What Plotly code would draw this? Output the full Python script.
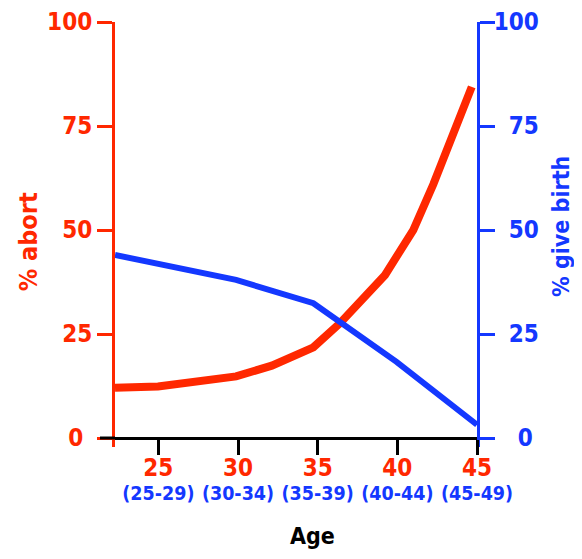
import plotly.graph_objects as go

# ---- data ----
age_ticks = [25, 30, 35, 40, 45]
age_labels = ["25", "30", "35", "40", "45"]
range_labels = ["(25-29)", "(30-34)", "(35-39)", "(40-44)", "(45-49)"]

abort_age = [22.28, 24.98, 29.88, 32.12, 34.73, 36.40, 39.23, 41.0, 42.26, 44.67]
abort_pct = [12.1, 12.4, 14.8, 17.4, 21.8, 27.6, 39.2, 50.0, 61.0, 84.4]

birth_age = [22.28, 29.88, 34.73, 39.95, 45.0]
birth_pct = [44.0, 38.0, 32.4, 18.3, 3.2]

y_ticks = [0, 25, 50, 75, 100]
left_labels = ["0\u2005\u2006", "25", "50", "75", "100"]
right_labels = ["\u2007\u2005\u20060", "\u200725", "\u200750", "\u200775", "100"]

RED = "#ff2800"
BLUE = "#1438ff"
FONT = "DejaVu Sans Condensed, DejaVu Sans, sans-serif"

x_range = [22.28, 45]
y_range = [-2.16, 100]
x_pos = (0 - y_range[0]) / (y_range[1] - y_range[0])

W, H = 566, 543
ML, MR, MT, MB = 107, 97, 14, 104
PH = H - MT - MB

fig = go.Figure()
fig.add_trace(go.Scatter(x=abort_age, y=abort_pct, mode="lines",
                         line=dict(color=RED, width=8), xaxis="x", yaxis="y",
                         showlegend=False, hoverinfo="skip"))
fig.add_trace(go.Scatter(x=birth_age, y=birth_pct, mode="lines",
                         line=dict(color=BLUE, width=6), xaxis="x2", yaxis="y2",
                         showlegend=False, hoverinfo="skip"))

fig.update_layout(
    width=W, height=H,
    margin=dict(l=ML, r=MR, t=MT, b=MB, autoexpand=False),
    paper_bgcolor="white", plot_bgcolor="white",
    font=dict(family=FONT),
    xaxis=dict(range=x_range, anchor="free", position=x_pos, automargin=False,
               showline=True, linecolor="black", linewidth=3,
               ticks="outside", ticklen=15, tickwidth=3, tickcolor="black",
               tickvals=age_ticks, ticktext=age_labels,
               tickfont=dict(family=FONT, size=24, color=RED, weight="bold"),
               ticklabelstandoff=-8,
               showgrid=False, zeroline=False, fixedrange=True),
    xaxis2=dict(range=x_range, overlaying="x", anchor="free", position=x_pos,
                automargin=False, showline=False, ticks="",
                tickvals=age_ticks, ticktext=range_labels,
                tickfont=dict(family=FONT, size=19.5, color=BLUE, weight="bold"),
                ticklabelstandoff=41,
                showgrid=False, zeroline=False, fixedrange=True),
    yaxis=dict(range=y_range, automargin=False,
               showline=True, linecolor=RED, linewidth=3,
               ticks="outside", ticklen=15, tickwidth=3, tickcolor=RED,
               tickvals=y_ticks, ticktext=left_labels,
               tickfont=dict(family=FONT, size=24, color=RED, weight="bold"),
               showgrid=False, zeroline=False, fixedrange=True),
    yaxis2=dict(range=y_range, overlaying="y", side="right", anchor="x",
                automargin=False, showline=True, linecolor=BLUE, linewidth=3,
                ticks="outside", ticklen=15, tickwidth=3, tickcolor=BLUE,
                tickvals=y_ticks, ticktext=right_labels,
                tickfont=dict(family=FONT, size=24, color=BLUE, weight="bold"),
                ticklabelstandoff=-6,
                showgrid=False, zeroline=False, fixedrange=True),
    shapes=[dict(type="line", xref="paper", yref="y", x0=-15 / 362, x1=0,
                 y0=0, y1=0, line=dict(color="black", width=3), layer="above")],
    annotations=[
        dict(text="% abort", xref="paper", yref="paper", x=-0.240, y=0.482,
             textangle=-90, showarrow=False, xanchor="center", yanchor="middle",
             font=dict(family=FONT, size=25, color=RED, weight="bold")),
        dict(text="% give birth", xref="paper", yref="paper", x=1.232, y=0.52,
             textangle=-90, showarrow=False, xanchor="center", yanchor="middle",
             font=dict(family=FONT, size=23, color=BLUE, weight="bold")),
        dict(text="Age", xref="paper", yref="paper", x=0.546, y=-MB / PH,
             showarrow=False, xanchor="center", yanchor="bottom",
             font=dict(family=FONT, size=23, color="black", weight="bold")),
    ],
)

fig.write_html("out.html")
